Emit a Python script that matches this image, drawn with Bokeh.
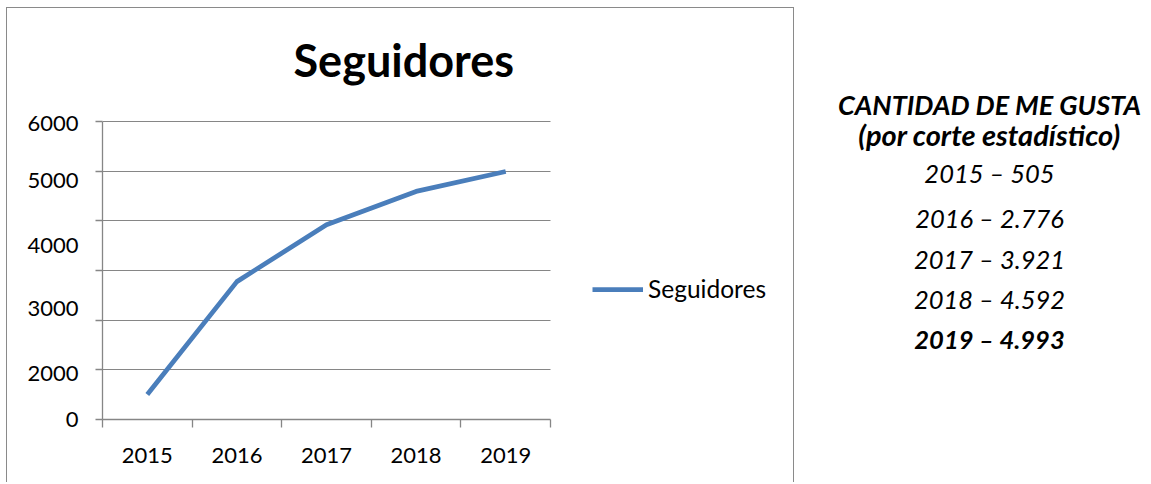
from bokeh.plotting import figure
from bokeh.layouts import row
from bokeh.models import Range1d, FixedTicker, Label, Legend, LegendItem
from bokeh.embed import file_html
from bokeh.resources import INLINE

# ---- data ----
years = ["2015", "2016", "2017", "2018", "2019"]
seguidores = [505, 2776, 3921, 4592, 4993]
y_tick_labels = ["0", "2000", "3000", "4000", "5000", "6000"]
series_name = "Seguidores"
chart_title = "Seguidores"
side_title = ["CANTIDAD DE ME GUSTA", "(por corte estad\u00edstico)"]

# ---- layout (pixels) ----
OFF_X, OFF_Y = 7, 8                  # page position of the chart canvas
PW, PH = 788, 475                    # chart canvas size
FL, FR = 95, 783                     # frame left / right (canvas px)
FT, FB = 30, 411                     # frame top / bottom (canvas px)
CAT_W = 89.6                         # px per category
GRID_TOP = 113                       # canvas px of the 6000 line
YMAX, YSTEP = 6000, 1000
NX = len(years)
XEND = (FR - FL) / CAT_W
YTOP = YMAX * (FB - FT) / (FB - GRID_TOP)
y_label_px = [414, 365, 300, 237, 172, 115]   # canvas px where the y labels sit in the original
SW = 354                             # side panel width
SIDE_X0 = 796                        # page x of side panel
BASE_SHIFT = 0.39                    # baseline correction (em)
side_center_page = 991
side_baselines_page = [115, 145, 182, 227, 268, 308, 348]
side_sizes = [27, 29, 25.5, 25.5, 25.5, 25.5, 25.5]
TITLE_SIZE = 45

FONT = "Lato"
GRAY = "#868686"
BLUE = "#4a7ebb"


def dx(px):
    return (px - FL) / CAT_W


def dy(py):
    return (FB - py) / (FB - FT) * YTOP


p = figure(width=PW, height=PH, output_backend="svg", toolbar_location=None,
           x_range=Range1d(0, XEND), y_range=Range1d(0, YTOP),
           min_border_left=FL, min_border_right=PW - FR,
           min_border_top=FT, min_border_bottom=PH - FB)
p.outline_line_color = None
p.background_fill_color = "white"
p.border_fill_color = "white"
p.title.visible = False
p.styles = {"margin-left": "6px", "margin-top": "7px",
            "border-left": "1px solid #8a8a8a", "border-top": "1px solid #8a8a8a",
            "border-right": "1px solid #8a8a8a"}

# ---- series ----
xs = [i + 0.5 for i in range(NX)]
r = p.line(x=xs, y=seguidores, line_color=BLUE, line_width=4.75, line_join="round")

# ---- x axis: labels centred on categories, tick marks between them ----
xa = p.xaxis[0]
xa.bounds = (0, NX)
xa.ticker = FixedTicker(ticks=xs, minor_ticks=list(range(0, NX + 1)))
xa.major_label_overrides = {x: y for x, y in zip(xs, years)}
xa.major_tick_out = 0
xa.major_tick_in = 0
xa.minor_tick_out = 8
xa.minor_tick_in = 0
xa.axis_line_color = GRAY
xa.minor_tick_line_color = GRAY
xa.axis_line_width = 1.3
xa.minor_tick_line_width = 1.3
xa.major_label_text_font = FONT
xa.major_label_text_font_size = "22px"
xa.major_label_text_color = "black"
xa.major_label_standoff = 20

# ---- y axis ----
ya = p.yaxis[0]
ya.bounds = (0, YMAX)
y_label_pos = [max(0, min(YMAX, round(dy(v)))) for v in y_label_px]
ya.ticker = FixedTicker(ticks=y_label_pos, minor_ticks=list(range(0, YMAX + 1, YSTEP)))
ya.major_label_overrides = {v: t for v, t in zip(y_label_pos, y_tick_labels)}
ya.major_tick_out = 0
ya.major_tick_in = 0
ya.minor_tick_out = 7
ya.minor_tick_in = 0
ya.axis_line_color = GRAY
ya.minor_tick_line_color = GRAY
ya.axis_line_width = 1.3
ya.minor_tick_line_width = 1.3
ya.major_label_text_font = FONT
ya.major_label_text_font_size = "22px"
ya.major_label_text_color = "black"
ya.major_label_standoff = 17

# ---- grid (only across the category area) ----
p.xgrid.grid_line_color = None
grid_vals = list(range(0, YMAX + 1, YSTEP))
g = p.ygrid[0]
if "cross_bounds" in g.properties():
    g.ticker = FixedTicker(ticks=grid_vals)
    g.cross_bounds = (0, NX)
    g.grid_line_color = GRAY
    g.grid_line_width = 1.2
else:
    g.grid_line_color = None
    p.segment(x0=[0] * len(grid_vals), x1=[NX] * len(grid_vals), y0=grid_vals, y1=grid_vals,
              line_color=GRAY, line_width=1.2, level="underlay")

# ---- title ----
p.add_layout(Label(x=dx(286), y=dy(69 - BASE_SHIFT * TITLE_SIZE), text=chart_title,
                   text_align="left", text_baseline="alphabetic", text_font=FONT,
                   text_font_size=f"{TITLE_SIZE}px", text_font_style="bold", text_color="black"))

# ---- legend ----
legend = Legend(items=[LegendItem(label=series_name, renderers=[r])],
                location=(490, 116), orientation="vertical")
legend.label_text_font = FONT
legend.label_text_font_size = "24.5px"
legend.label_text_color = "black"
legend.glyph_width = 51
legend.glyph_height = 24
legend.label_standoff = 5
legend.padding = 0
legend.spacing = 0
legend.margin = 0
legend.border_line_color = None
legend.background_fill_alpha = 0
p.add_layout(legend)

# ---- side text (own figure; same borders as the chart so the frames line up) ----
ps = figure(width=SW, height=PH, output_backend="svg", toolbar_location=None,
            x_range=Range1d(SIDE_X0, SIDE_X0 + SW), y_range=Range1d(FB, FT),
            x_axis_type=None, y_axis_type=None,
            min_border_left=0, min_border_right=0,
            min_border_top=FT, min_border_bottom=PH - FB)
ps.outline_line_color = None
ps.background_fill_color = "white"
ps.border_fill_color = "white"
ps.title.visible = False

side_lines = list(side_title) + [f"{y} \u2013 {v:,}".replace(",", ".") for y, v in zip(years, seguidores)]
styles = ["bold italic", "bold italic"] + ["italic"] * (len(years) - 1) + ["bold italic"]
for txt, st, by, fs in zip(side_lines, styles, side_baselines_page, side_sizes):
    ps.add_layout(Label(x=side_center_page, y=by - BASE_SHIFT * fs, text=txt, text_align="center",
                        text_baseline="alphabetic", text_font=FONT, text_font_size=f"{fs}px",
                        text_font_style=st, text_color="black"))

layout = row(p, ps, spacing=0)
open("out.html", "w").write(file_html(layout, INLINE))
